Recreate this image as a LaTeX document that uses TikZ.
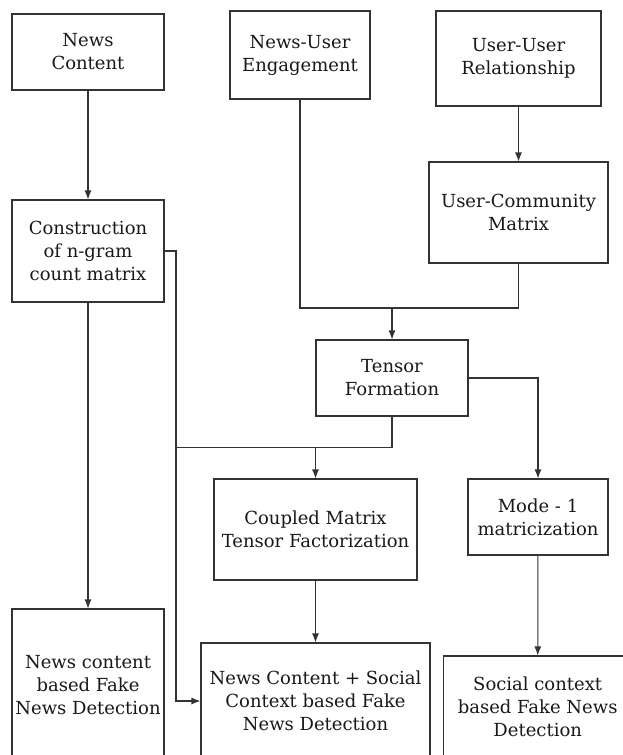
\documentclass[tikz,border=0pt]{standalone}
\usepackage{fontspec}
\setmainfont{DejaVu Serif}
\usetikzlibrary{arrows.meta}

\tikzset{
  box/.style={draw=black!80,line width=1.1pt,align=center,text=black!90,
    inner sep=0pt,font=\fontsize{18}{23}\selectfont},
  link/.style={draw=black!80,line width=1.1pt},
}

\begin{document}
\begin{tikzpicture}[x=1pt,y=-1pt,>={Latex[length=9pt,width=7pt]}]
\useasboundingbox[fill=white] (0,0) rectangle (622,755);
% left column
\node[box,minimum width=152pt,minimum height=76pt] (news) at (88,52) {News\\Content};
\node[box,minimum width=152pt,minimum height=102pt] (ngram) at (88,251) {Construction\\of n-gram\\count matrix};
\node[box,minimum width=152pt,minimum height=152pt] (ncdet) at (88,685) {News content\\based Fake\\News Detection};
% social side
\node[box,minimum width=140pt,minimum height=88pt] (engage) at (300,55) {News-User\\Engagement};
\node[box,minimum width=165pt,minimum height=95pt] (uurel) at (518.5,58.5) {User-User\\Relationship};
\node[box,minimum width=179pt,minimum height=101pt] (ucm) at (518.5,212.5) {User-Community\\Matrix};
\node[box,minimum width=152pt,minimum height=76pt] (tensor) at (392,378) {Tensor\\Formation};
\node[box,minimum width=203pt,minimum height=101pt] (cmtf) at (315.5,529.5) {Coupled Matrix\\Tensor Factorization};
\node[box,minimum width=140pt,minimum height=76pt] (mode) at (538,517) {Mode - 1\\matricization};
\node[box,minimum width=229pt,minimum height=116pt] (bothdet) at (315.5,701) {News Content + Social\\Context based Fake\\News Detection};
\node[box,minimum width=189pt,minimum height=102pt] (scdet) at (537.7,707) {Social context\\based Fake News\\Detection};
% junctions
\coordinate (tjoin) at (392,308);
\coordinate (bjoin) at (392,447.5);
\coordinate (side) at (176,251);
% connectors
\draw[link,->] (news) -- (ngram);
\draw[link,->] (ngram) -- (ncdet);
\draw[link,->] (ngram.east) -- (side) |- (bothdet.west);
\draw[link] (engage.south) |- (tjoin) -| (ucm.south);
\draw[link,->] (tjoin) -- (tensor.north);
\draw[link,->] (uurel) -- (ucm);
\draw[link,->] (tensor.east) -| (mode.north);
\draw[link] (tensor.south) -- (bjoin) -- (side |- bjoin);
\draw[link,->] (cmtf.north |- bjoin) -- (cmtf.north);
\draw[link,->] (cmtf) -- (bothdet);
\draw[link,->] (mode) -- (scdet);
\end{tikzpicture}
\end{document}
